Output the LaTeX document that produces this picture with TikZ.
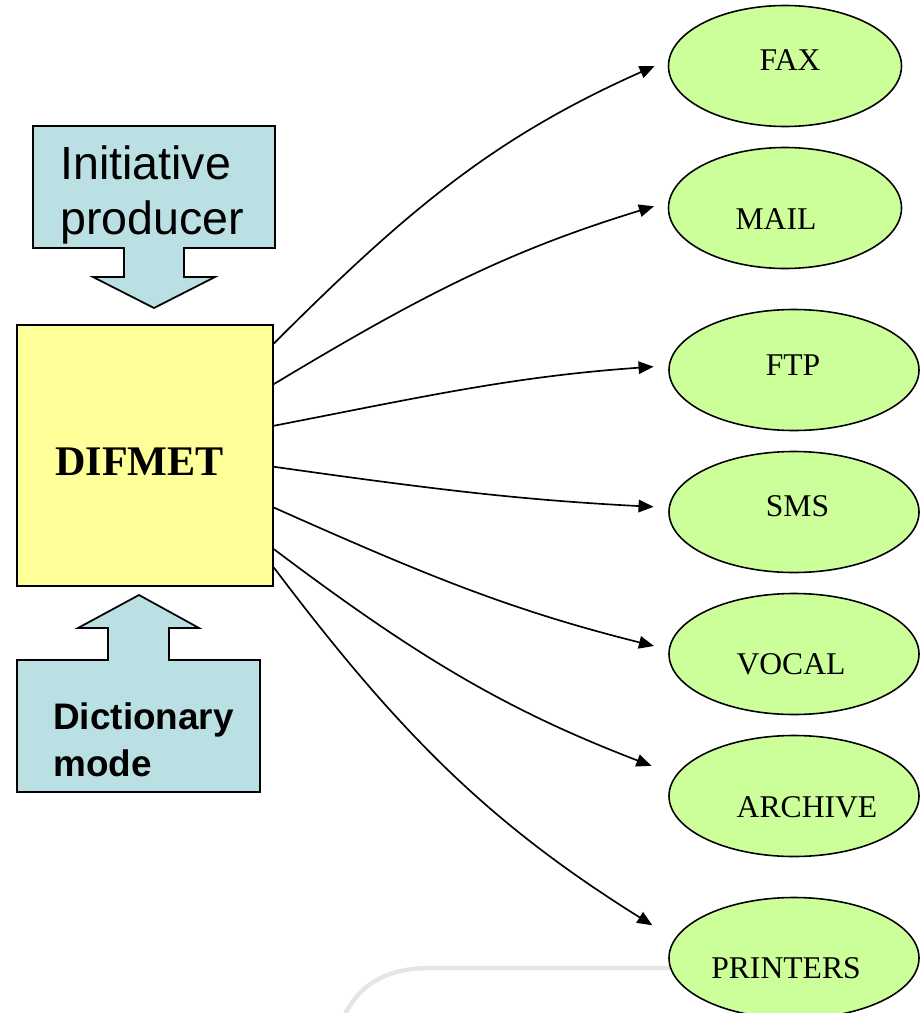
\documentclass[tikz,border=0pt]{standalone}
\usepackage{fontspec}
\setmainfont{Liberation Serif}
\newfontfamily\callfont{Liberation Sans}
\usetikzlibrary{shapes.geometric,arrows.meta}
\definecolor{hubyellow}{HTML}{FFFF99}
\definecolor{destgreen}{HTML}{CCFF99}
\definecolor{callblue}{HTML}{BBE0E3}
\definecolor{bgline}{RGB}{228,228,234}
\tikzset{
  hub/.style={draw, line width=1pt, fill=hubyellow, minimum width=5.12cm, minimum height=5.22cm},
  dest/.style={ellipse, draw, line width=0.9pt, fill=destgreen, minimum width=5cm, minimum height=2.42cm},
  destlabel/.style={font=\fontsize{18}{21}\selectfont},
  callshape/.style={draw, line width=1pt, fill=callblue},
  feed/.style={line width=0.95pt, -{Triangle[length=0.3cm,width=0.25cm]}, shorten >=0.3cm}
}
\begin{document}
\begin{tikzpicture}
\useasboundingbox (0,0) rectangle (18.4,-20.26);

\draw[bgline, line width=2.5pt] (13.4,-19.36) -- (8.6,-19.36) .. controls (7.6,-19.36) and (7.1,-19.8) .. (6.85,-20.4);

\draw[callshape] (0.66,-2.52) -- (5.5,-2.52) -- (5.5,-4.96) -- (3.68,-4.96) -- (3.68,-5.54) -- (4.30,-5.54)
  -- (3.08,-6.16) -- (1.86,-5.54) -- (2.48,-5.54) -- (2.48,-4.96) -- (0.66,-4.96) -- cycle;
\node[anchor=west, inner sep=0pt, align=left, font=\callfont\fontsize{26.5}{31.3}\selectfont] (producer) at (1.2,-3.9) {Initiative\\producer};

\draw[callshape] (0.34,-15.84) -- (5.2,-15.84) -- (5.2,-13.2) -- (3.38,-13.2) -- (3.38,-12.56) -- (3.98,-12.56)
  -- (2.78,-11.9) -- (1.56,-12.56) -- (2.16,-12.56) -- (2.16,-13.2) -- (0.34,-13.2) -- cycle;
\node[anchor=west, inner sep=0pt, align=left, font=\callfont\bfseries\fontsize{21}{26.7}\selectfont] (dictmode) at (1.06,-14.8) {Dictionary\\mode};

\node[hub, label={[font=\bfseries\fontsize{24}{28}\selectfont, xshift=-0.11cm, yshift=-0.13cm]center:DIFMET}] (difmet) at (2.9,-9.11) {};

\node[dest, minimum width=4.66cm, label={[destlabel, xshift=0.1cm, yshift=0.12cm]center:FAX}] (fax) at (15.7,-1.32) {};
\node[dest, minimum width=4.66cm, label={[destlabel, xshift=-0.18cm, yshift=-0.22cm]center:MAIL}] (mail) at (15.7,-4.16) {};
\node[dest, label={[destlabel, xshift=-0.02cm, yshift=0.1cm]center:FTP}] (ftp) at (15.88,-7.4) {};
\node[dest, label={[destlabel, xshift=0.07cm, yshift=0.11cm]center:SMS}] (sms) at (15.88,-10.24) {};
\node[dest, label={[destlabel, xshift=-0.06cm, yshift=-0.21cm]center:VOCAL}] (vocal) at (15.88,-13.08) {};
\node[dest, label={[destlabel, xshift=0.26cm, yshift=-0.22cm]center:ARCHIVE}] (archive) at (15.88,-15.92) {};
\node[dest, label={[destlabel, xshift=-0.16cm, yshift=-0.21cm]center:PRINTERS}] (printers) at (15.88,-19.16) {};

\draw[feed] (difmet.41) to[out=45, in=204] (fax.177);
\draw[feed] (difmet.29) to[out=31, in=197] (mail.177);
\draw[feed] (difmet.13) to[out=11, in=184] (ftp.178);
\draw[feed] (difmet.355) to[out=352, in=177] (sms.178);
\draw[feed] (difmet.338) to[out=336, in=166] (vocal.178);
\draw[feed, shorten >=0.52cm] (difmet.324) to[out=323, in=159] (archive.170);
\draw[feed, shorten >=0.52cm] (difmet.319) to[out=307, in=148] (printers.171);

\end{tikzpicture}
\end{document}
